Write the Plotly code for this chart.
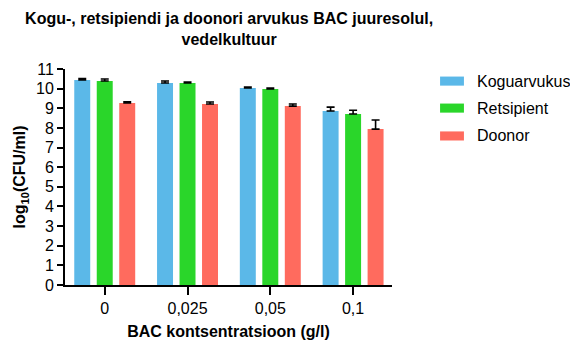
import plotly.graph_objects as go

# BAC concentrations (g/l) on the category axis
concentrations = ["0", "0,025", "0,05", "0,1"]

# Mean log10(CFU/ml) per group and the upper error (SD)
koguarvukus = [10.44, 10.29, 10.03, 8.86]
koguarvukus_err = [0.08, 0.10, 0.05, 0.20]

retsipient = [10.39, 10.29, 9.98, 8.71]
retsipient_err = [0.10, 0.05, 0.05, 0.19]

doonor = [9.27, 9.22, 9.11, 7.94]
doonor_err = [0.06, 0.10, 0.11, 0.46]

series_names = ["Koguarvukus", "Retsipient", "Doonor"]
series_values = [koguarvukus, retsipient, doonor]
series_errors = [koguarvukus_err, retsipient_err, doonor_err]
series_colors = ["#5BB8E8", "#2AD62A", "#FF6B5E"]

font_family = "Liberation Sans, Arial, sans-serif"

fig = go.Figure()
for name, vals, errs, color in zip(series_names, series_values, series_errors, series_colors):
    fig.add_trace(go.Bar(
        name=name,
        x=concentrations,
        y=vals,
        marker=dict(color=color, line=dict(width=0)),
        error_y=dict(
            type="data", symmetric=False, array=errs,
            arrayminus=[0] * len(errs),
            color="black", thickness=1.6, width=4,
        ),
        showlegend=False,
    ))

# Legend: wide colour swatches with labels to the right of the plot
legend_rows_y = [0.944, 0.819, 0.690]
shapes, annotations = [], []
for name, color, yc in zip(series_names, series_colors, legend_rows_y):
    shapes.append(dict(
        type="rect", xref="paper", yref="paper",
        x0=1.147, x1=1.220, y0=yc - 0.021, y1=yc + 0.021,
        fillcolor=color, line=dict(width=0),
    ))
    annotations.append(dict(
        xref="paper", yref="paper", x=1.255, y=yc,
        xanchor="left", yanchor="middle", showarrow=False,
        text=name, font=dict(size=16, color="black"),
    ))

fig.update_layout(
    width=570, height=340,
    margin=dict(l=65, r=178, t=69, b=55, autoexpand=False),
    paper_bgcolor="white", plot_bgcolor="white",
    barmode="group", bargap=0.185, bargroupgap=0.29,
    font=dict(family=font_family, size=16, color="black"),
    title=dict(
        text="<b>Kogu-, retsipiendi ja doonori arvukus BAC juuresolul,<br>vedelkultuur</b>",
        x=0.402, xanchor="center", xref="container",
        y=0.929, yanchor="top", yref="container",
        font=dict(size=16, color="black"),
    ),
    shapes=shapes,
    annotations=annotations,
    showlegend=False,
)

fig.update_xaxes(
    range=[-0.48, 3.47],
    showline=True, linecolor="black", linewidth=2,
    ticks="outside", ticklen=8, tickwidth=2, tickcolor="black",
    tickfont=dict(size=16),
    title=dict(text="<b>BAC kontsentratsioon (g/l)</b>", font=dict(size=16), standoff=12),
    showgrid=False, zeroline=False,
)
fig.update_yaxes(
    range=[0, 11], dtick=1,
    showline=True, linecolor="black", linewidth=2,
    ticks="outside", ticklen=6, tickwidth=2, tickcolor="black",
    tickfont=dict(size=16),
    title=dict(text="<b>log<sub>10</sub>(CFU/ml)</b>", font=dict(size=16), standoff=6),
    showgrid=False, zeroline=False,
)

fig.write_html("out.html")
